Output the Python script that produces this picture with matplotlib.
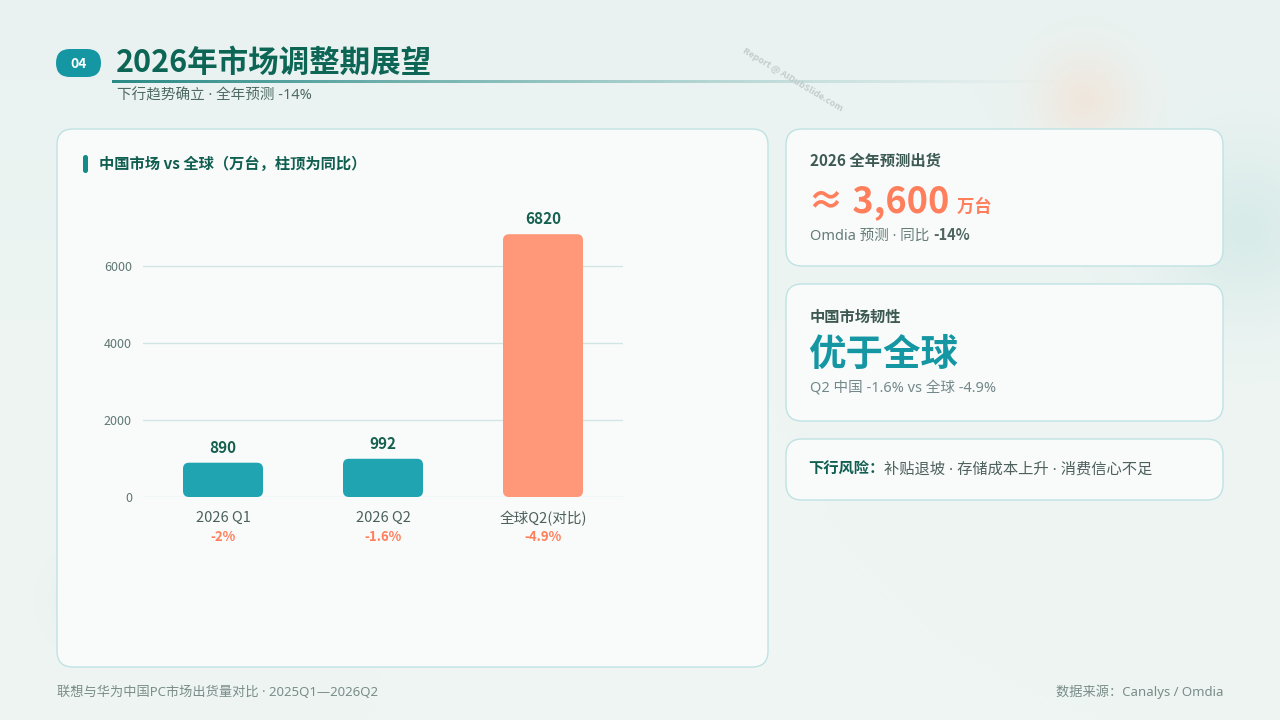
import numpy as np
import matplotlib
matplotlib.use("Agg")
import matplotlib.pyplot as plt
from matplotlib.patches import FancyBboxPatch
from matplotlib.colors import to_rgb

plt.rcParams['font.family'] = ['Noto Sans CJK SC', 'DejaVu Sans']
LAT = ['Noto Sans', 'Noto Sans CJK SC', 'DejaVu Sans']   # narrow middle dot

# ---------------- data ----------------
categories = ["2026 Q1", "2026 Q2", "全球Q2(对比)"]
values = [890, 992, 6820]
yoy_labels = ["-2%", "-1.6%", "-4.9%"]
bar_colors = ["#20A4B2", "#20A4B2", "#FF9878"]
y_ticks = [0, 2000, 4000, 6000]

title = "2026年市场调整期展望"
subtitle = "下行趋势确立 · 全年预测 -14%"
chart_title = "中国市场 vs 全球（万台，柱顶为同比）"
footer_left = "联想与华为中国PC市场出货量对比 · 2025Q1—2026Q2"
footer_right = "数据来源：Canalys / Omdia"

W, H = 1280, 720
fig = plt.figure(figsize=(12.8, 7.2), dpi=100)

# ---------------- background ----------------
bg = fig.add_axes([0, 0, 1, 1])
bg.set_xlim(0, W)
bg.set_ylim(H, 0)
bg.axis('off')

yy, xx = np.mgrid[0:H, 0:W].astype(float)
base = np.array(to_rgb("#EEF5F3"))
img = np.ones((H, W, 3)) * base
t = np.clip(1 - yy / 400, 0, 1)[..., None]
img = img * (1 - 0.5 * t) + np.array(to_rgb("#E4F0EF")) * 0.5 * t

def blob(cx, cy, r, col, a):
    global img
    g = np.exp(-(((xx - cx) ** 2 + (yy - cy) ** 2) / (2 * r ** 2)))[..., None] * a
    img = img * (1 - g) + np.array(to_rgb(col)) * g

blob(1085, 100, 35, "#F3E0D2", 0.6)
blob(1245, 230, 60, "#CDE6E3", 0.6)
blob(100, 600, 35, "#E2EBE7", 0.5)
bg.imshow(img, extent=[0, W, H, 0], aspect='auto', zorder=0)

def card(x0, y0, x1, y1, r=16):
    p = FancyBboxPatch((x0, y0), x1 - x0, y1 - y0,
                       boxstyle=f"round,pad=0,rounding_size={r}",
                       fc="#F9FBFB", ec="#BFE2E2", lw=1.0, zorder=2)
    bg.add_patch(p)

card(57, 129, 768, 667)
card(786, 129, 1223, 266)
card(786, 284, 1223, 421)
card(786, 439, 1223, 500)

# badge
bg.add_patch(FancyBboxPatch((56, 49), 45, 28, boxstyle="round,pad=0,rounding_size=14",
                            fc="#1496A3", ec="none", zorder=3))
bg.text(78.5, 63.5, "04", color="white", fontsize=10, fontweight="bold",
        ha="center", va="center", zorder=4)

# title
bg.text(116, 63, title, color="#0D6655", fontsize=22, fontweight="bold",
        ha="left", va="center", zorder=4)
# gradient underline
N = 400
grad = np.zeros((1, N, 4))
grad[0, :, :3] = np.array(to_rgb("#2A8A86"))
grad[0, :, 3] = np.linspace(1, 0, N) ** 1.3
bg.imshow(grad, extent=[112, 1070, 83.5, 80.5], aspect='auto', zorder=3)

bg.text(117, 96, subtitle, color="#4F6A63", fontsize=10.5, ha="left", va="center",
        zorder=4, family=LAT)

# watermark
bg.text(793, 80, "Report @ AIDubSlide.com", color="#C3CCCC", fontsize=6.5,
        rotation=-31, ha="center", va="center", zorder=4, fontweight="bold")

# chart title + accent
bg.add_patch(FancyBboxPatch((83, 155), 5, 18, boxstyle="round,pad=0,rounding_size=2.5",
                            fc="#138C86", ec="none", zorder=3))
bg.text(99, 164, chart_title, color="#0F5E50", fontsize=11, fontweight="bold",
        ha="left", va="center", zorder=4)

# ---------------- chart ----------------
ax_l, ax_r, ax_b, ax_t = 143, 623, 497, 208
ax = fig.add_axes([ax_l / W, 1 - ax_b / H, (ax_r - ax_l) / W, (ax_b - ax_t) / H])
ax.set_facecolor("none")
x = np.arange(len(categories))
bars = ax.bar(x, values, width=0.5, color=bar_colors, zorder=3)
ax.set_xlim(-0.5, 2.5)
ax.set_ylim(0, 7500)
ax.set_yticks(y_ticks)
ax.set_yticklabels([str(v) for v in y_ticks], color="#5F7873", fontsize=9)
ax.yaxis.grid(True, color="#D3E5E3", lw=1, zorder=0)
ax.set_axisbelow(True)
for s in ax.spines.values():
    s.set_visible(False)
ax.tick_params(axis='y', length=0, pad=8)
ax.tick_params(axis='x', length=0, pad=10)
ax.set_xticks(x)
ax.set_xticklabels(categories, color="#4D605B", fontsize=10.5)

fig.canvas.draw()
px_x = (ax_r - ax_l) / 3.0
px_y = (ax_b - ax_t) / 7500.0
rad_px = 6
for b, col in zip(bars, bar_colors):
    b.set_visible(False)
    rp = FancyBboxPatch((b.get_x(), b.get_y()), b.get_width(), b.get_height(),
                        boxstyle=f"round,pad=0,rounding_size={rad_px / px_x}",
                        mutation_aspect=px_x / px_y,
                        fc=col, ec="none", zorder=3)
    ax.add_patch(rp)

for i, v in enumerate(values):
    ax.annotate(str(v), xy=(i, v), xytext=(0, 15 * 0.72), textcoords="offset points",
                ha="center", va="center", fontsize=11, fontweight="bold", color="#16604F")
    ax.annotate(yoy_labels[i], xy=(i, 0), xytext=(0, -40 * 0.72), textcoords="offset points",
                ha="center", va="center", fontsize=9.5, fontweight="bold", color="#FF7F5C")

# ---------------- right cards ----------------
renderer = fig.canvas.get_renderer()

def seq_text(x0, y, parts):
    xcur = x0
    inv = bg.transData.inverted()
    for s, props in parts:
        tt = bg.text(xcur, y, s, ha="left", va="baseline", zorder=4, **props)
        bb = tt.get_window_extent(renderer=renderer)
        xcur = inv.transform([bb.x1, bb.y1])[0]

bg.text(810, 161, "2026 全年预测出货", color="#3D5A52", fontsize=11, fontweight="bold",
        ha="left", va="center", zorder=4)
seq_text(808, 212, [("≈ 3,600", dict(color="#FF7F5C", fontsize=26, fontweight="bold")),
                    ("  万台", dict(color="#FF7F5C", fontsize=12.5, fontweight="bold"))])
seq_text(810, 240, [("Omdia 预测 · 同比 ", dict(color="#657D77", fontsize=10.5, family=LAT)),
                    ("-14%", dict(color="#4E6660", fontsize=10.5, fontweight="bold"))])

bg.text(810, 317, "中国市场韧性", color="#3D5A52", fontsize=11, fontweight="bold",
        ha="left", va="center", zorder=4)
bg.text(808, 354, "优于全球", color="#1497A3", fontsize=27, fontweight="bold",
        ha="left", va="center", zorder=4)
bg.text(810, 389, "Q2 中国 -1.6% vs 全球 -4.9%", color="#74888A", fontsize=10.5,
        ha="left", va="center", zorder=4, family=LAT)

seq_text(808, 474, [("下行风险：", dict(color="#0F5E50", fontsize=11, fontweight="bold")),
                    ("补贴退坡 · 存储成本上升 · 消费信心不足",
                     dict(color="#4D605B", fontsize=11, family=LAT))])

# footer
bg.text(57, 692, footer_left, color="#7A8D88", fontsize=9.5, ha="left", va="center",
        zorder=4, family=LAT)
bg.text(1223, 692, footer_right, color="#7A8D88", fontsize=9.5, ha="right", va="center",
        zorder=4, family=LAT)

fig.savefig("out.png", dpi=100)
